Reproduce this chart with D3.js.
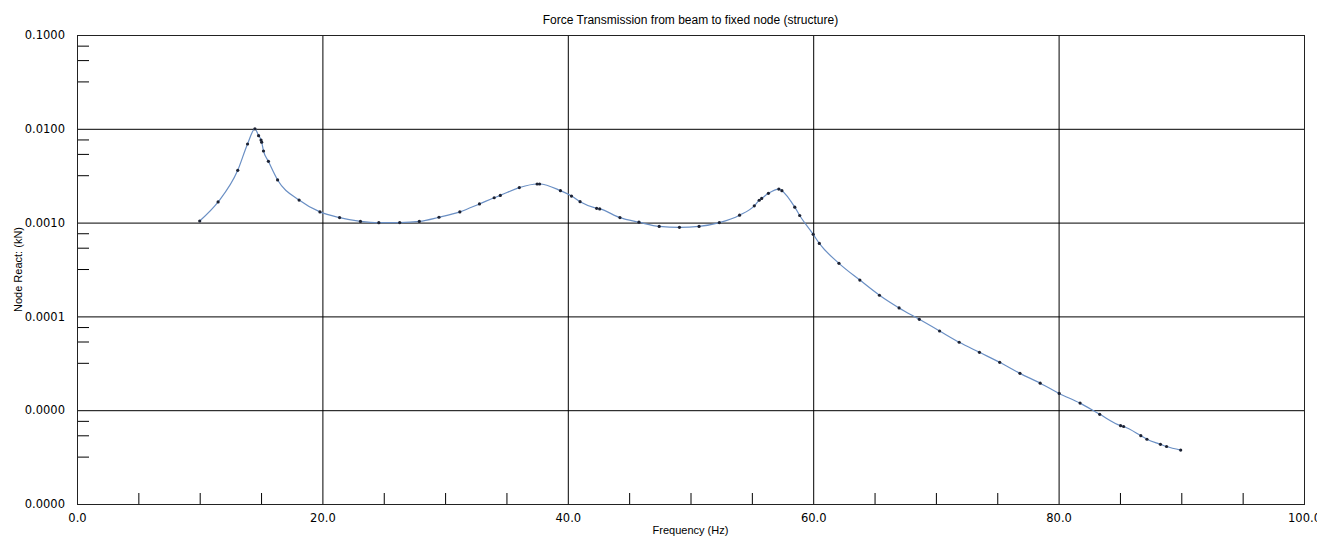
<!DOCTYPE html>
<html>
<head>
<meta charset="utf-8">
<script src="https://cdn.jsdelivr.net/npm/d3@7"></script>
<style>
  body { margin: 0; background: #fff; }
  svg { display: block; font-family: "Liberation Sans", Arial, sans-serif; }
  .tick text { fill: #000; }
</style>
</head>
<body>
<div id="chart"></div>
<script>
// Frequency (Hz) and node reaction (kN)
const freq = [10.0, 11.5, 13.1, 13.9, 14.5, 14.8, 15.0, 15.05, 15.2, 15.6, 16.35, 18.1, 19.8, 21.4,
  23.1, 24.6, 26.3, 27.9, 29.5, 31.2, 32.8, 34.0, 34.5, 36.05, 37.5, 37.7, 39.4, 40.3, 41.0, 42.35, 42.6, 44.25,
  45.8, 47.45, 49.1, 50.7, 52.35, 54.0, 55.2, 55.6, 55.8, 56.35, 57.2, 57.45, 58.5, 58.9, 60.0, 60.5,
  62.1, 63.8, 65.4, 67.0, 68.65, 70.3, 71.9, 73.55, 75.2, 76.85, 78.5, 80.05, 81.75, 83.35, 85.05, 85.3,
  86.7, 87.2, 88.3, 88.8, 89.95];
const react = [0.00104, 0.00166, 0.00361, 0.00689, 0.0100, 0.00844, 0.0076, 0.0072, 0.0058, 0.0045, 0.00285, 0.00174, 0.0013, 0.00113,
  0.00103, 0.000997, 0.00100, 0.00103, 0.00114, 0.0013, 0.00158, 0.00184, 0.00195, 0.00236, 0.00258, 0.00258, 0.00219, 0.00192, 0.00167, 0.00142, 0.0014, 0.00113,
  0.00101, 0.00091, 0.00089, 0.00091, 0.00100, 0.0012, 0.00151, 0.00173, 0.00181, 0.00205, 0.00228, 0.00219, 0.00146, 0.00119, 0.00075, 0.0006,
  0.000368, 0.000244, 0.000168, 0.000123, 0.0000931, 0.0000699, 0.000053, 0.0000414, 0.0000324, 0.0000247, 0.0000194, 0.0000151, 0.0000119, 0.00000904, 0.00000684, 0.0000067,
  0.00000535, 0.0000049, 0.00000433, 0.0000041, 0.00000376];

// Axis ticks
const xMajor = [0, 20, 40, 60, 80, 100];
const xMinor = [5, 10, 15, 25, 30, 35, 45, 50, 55, 65, 70, 75, 85, 90, 95];
const yMajor = [1e-6, 1e-5, 1e-4, 1e-3, 1e-2, 1e-1];
const yMinorFactors = [0.77, 0.54, 0.32];

const margin = { top: 35, right: 13, bottom: 32, left: 77 };
const W = 1317, H = 536;
const width = W - margin.left - margin.right;
const height = H - margin.top - margin.bottom;

const data = freq.map((f, i) => ({ f: f, v: react[i] }));

const svg = d3.select("#chart")
  .append("svg")
  .attr("width", W)
  .attr("height", H);

const g = svg.append("g")
  .attr("transform", "translate(" + margin.left + "," + margin.top + ")");

const x = d3.scaleLinear().domain([0, 100]).range([0, width]);
const y = d3.scaleLog().domain([1e-6, 1e-1]).range([height, 0]);

// minor y ticks inside each decade
const yMinor = [];
yMajor.slice(1).forEach(d => yMinorFactors.forEach(k => yMinor.push(d * k)));

// x axis with vertical grid lines
const xAxis = g.append("g")
  .attr("transform", "translate(0," + height + ")")
  .call(d3.axisBottom(x).tickValues(xMajor).tickSize(-height).tickSizeOuter(0)
    .tickPadding(10).tickFormat(d3.format(".1f")));
xAxis.select(".domain").remove();
xAxis.selectAll("line").attr("stroke", "#000");
xAxis.selectAll("text")
  .style("font-family", "'DejaVu Sans', sans-serif")
  .style("font-size", "11.5px");

// y axis with horizontal grid lines
const yAxis = g.append("g")
  .call(d3.axisLeft(y).tickValues(yMajor).tickSize(-width).tickSizeOuter(0)
    .tickPadding(12).tickFormat(d3.format(".4f")));
yAxis.select(".domain").remove();
yAxis.selectAll("line").attr("stroke", "#000");
yAxis.selectAll("text")
  .style("font-family", "'DejaVu Sans', sans-serif")
  .style("font-size", "11.5px");

// minor ticks
const xMinorAxis = g.append("g")
  .attr("transform", "translate(0," + height + ")")
  .call(d3.axisBottom(x).tickValues(xMinor).tickSize(-11).tickFormat(""));
xMinorAxis.select(".domain").remove();
xMinorAxis.selectAll("line").attr("stroke", "#000");

const yMinorAxis = g.append("g")
  .call(d3.axisLeft(y).tickValues(yMinor).tickSize(-12).tickFormat(""));
yMinorAxis.select(".domain").remove();
yMinorAxis.selectAll("line").attr("stroke", "#000");

// frame
g.append("rect")
  .attr("x", 0.5)
  .attr("y", 0.5)
  .attr("width", width)
  .attr("height", height)
  .attr("fill", "none")
  .attr("stroke", "#222");

// curve
const line = d3.line()
  .x(d => x(d.f))
  .y(d => y(d.v))
  .curve(d3.curveMonotoneX);

g.append("path")
  .datum(data)
  .attr("fill", "none")
  .attr("stroke", "#6a8fc4")
  .attr("stroke-width", 1.2)
  .attr("d", line);

g.selectAll("circle.pt")
  .data(data)
  .enter()
  .append("circle")
  .attr("class", "pt")
  .attr("cx", d => x(d.f))
  .attr("cy", d => y(d.v))
  .attr("r", 1.6)
  .attr("fill", "#1c2233");

// Title and axis labels
svg.append("text")
  .attr("x", margin.left + width / 2)
  .attr("y", 24)
  .attr("text-anchor", "middle")
  .style("font-size", "12px")
  .text("Force Transmission from beam to fixed node (structure)");

svg.append("text")
  .attr("x", margin.left + width / 2)
  .attr("y", 534)
  .attr("text-anchor", "middle")
  .style("font-size", "11px")
  .text("Frequency (Hz)");

svg.append("text")
  .attr("transform", "rotate(-90)")
  .attr("x", -(margin.top + height / 2))
  .attr("y", 22)
  .attr("text-anchor", "middle")
  .style("font-size", "11px")
  .text("Node React: (kN)");
</script>
</body>
</html>
